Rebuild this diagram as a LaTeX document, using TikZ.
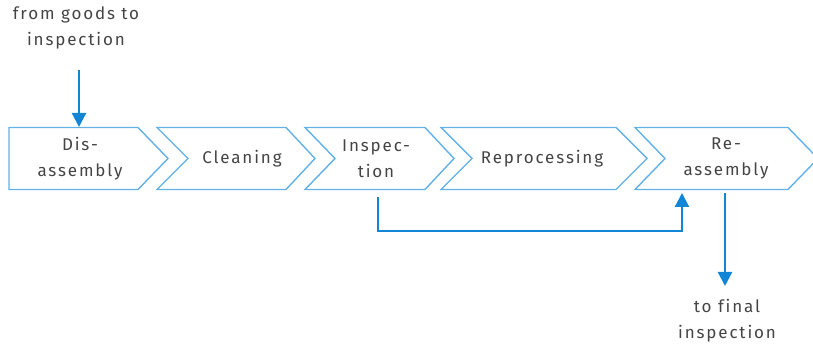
\documentclass[tikz,border=0pt]{standalone}
\usepackage{fontspec}
\setmainfont{Fira Sans}[LetterSpace=11, Ligatures=NoCommon]
\usetikzlibrary{arrows.meta}
\definecolor{chevline}{HTML}{62B1E8}
\definecolor{flowblue}{HTML}{1186D6}
\definecolor{labelgray}{HTML}{444444}
\tikzset{
  chev/.style={draw=chevline, line width=1.4pt, line join=miter},
  lbl/.style={text=labelgray, font=\fontsize{17}{26}\selectfont, align=center, inner sep=0pt},
  flow/.style={draw=flowblue, line width=2.2pt, -{Triangle[length=14pt,width=14pt]}},
}
% chevron: left x, notch depth (0 = flat), top-right x, tip x
\newcommand{\chevron}[4]{%
  \draw[chev] (#1,127.5) -- (#3,127.5) -- (#4,158.5) -- (#3,189.5) -- (#1,189.5) -- (#1+#2,158.5) -- cycle;}
\begin{document}
\begin{tikzpicture}[x=1pt,y=-1pt]
\useasboundingbox (0,0) rectangle (813,344);
\begin{scope}
\clip (0,0) rectangle (813,344);
\chevron{9}{0}{138}{168}
\chevron{157}{31}{286}{315}
\chevron{305}{30}{425}{454}
\chevron{441}{31}{616}{647}
\chevron{635}{30}{788}{818}
\end{scope}

\node[lbl] (dis)   at (80,158.5)  {Dis-\\assembly};
\node[lbl] (clean) at (242,158.5) {Cleaning};
\node[lbl] (insp)  at (376,158.5) {Inspec-\\tion};
\node[lbl] (repro) at (542,158.5) {Reprocessing};
\node[lbl] (reas)  at (726,158.5) {Re-\\assembly};

\node[lbl] (from) at (76,28)  {from goods to\\inspection};
\node[lbl] (to)   at (727,321) {to final\\inspection};

\coordinate (inTop)   at (79,70);
\coordinate (inTip)   at (79,127);
\coordinate (loopA)   at (378,197);
\coordinate (loopC)   at (682,231);
\coordinate (loopB)   at (682,193);
\coordinate (outTop)  at (725,193);
\coordinate (outTip)  at (725,286);

\draw[flow] (inTop) -- (inTip);
\draw[flow, line join=miter] (loopA) |- (loopC) -- (loopB);
\draw[flow] (outTop) -- (outTip);
\end{tikzpicture}
\end{document}
